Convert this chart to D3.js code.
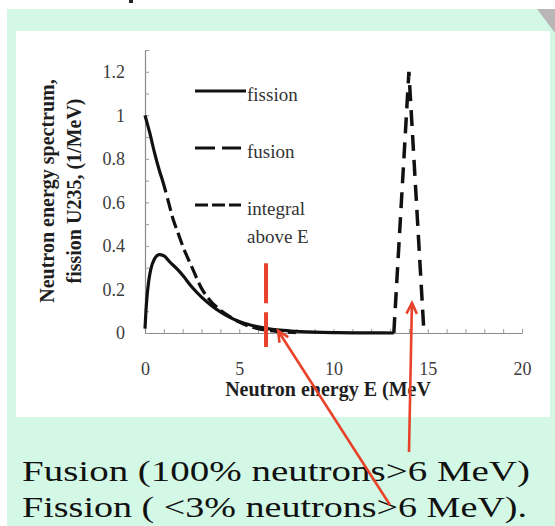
<!DOCTYPE html>
<html>
<head>
<meta charset="utf-8">
<script src="https://cdn.jsdelivr.net/npm/d3@7"></script>
<style>
  html, body { margin: 0; padding: 0; background: #ffffff; }
  svg { display: block; }
</style>
</head>
<body>
<svg id="chart" width="555" height="526"></svg>
<script>
// ---------------- data ----------------
const fissionEnergy   = [0, 0.05, 0.1, 0.2, 0.3, 0.5, 0.75, 1.0, 1.33, 1.75, 2.0, 2.5, 3.0, 3.5, 4.0, 4.5, 5.0, 5.5, 6.0, 6.5, 7.0, 8.0, 9.0, 10.0, 11.0, 12.0, 13.2];
const fissionSpectrum = [0.02, 0.10, 0.16, 0.24, 0.29, 0.34, 0.36, 0.355, 0.325, 0.29, 0.265, 0.21, 0.165, 0.128, 0.097, 0.072, 0.053, 0.039, 0.028, 0.02, 0.014, 0.008, 0.004, 0.002, 0.001, 0.0005, 0];

const integralEnergy = [0, 0.25, 0.5, 0.75, 1.0, 1.25, 1.5, 1.75, 2.0, 2.5, 3.0, 3.5, 4.0, 4.5, 5.0, 5.5, 6.0, 6.5, 7.0, 7.5, 8.0];
const integralAbove  = [1.0, 0.92, 0.83, 0.75, 0.68, 0.60, 0.52, 0.46, 0.40, 0.30, 0.205, 0.145, 0.105, 0.075, 0.05, 0.032, 0.02, 0.012, 0.007, 0.004, 0.002];

const fusionEnergy   = [13.2, 14.0, 14.8];
const fusionSpectrum = [0, 1.2, 0];

const xTickValues = [0, 5, 10, 15, 20];
const yTickValues = [0, 0.2, 0.4, 0.6, 0.8, 1.0, 1.2];
const yTickLabels = ["0", "0.2", "0.4", "0.6", "0.8", "1", "1.2"];

const legendLabels = ["fission", "fusion", "integral", "above E"];
const xTitle = "Neutron energy E (MeV";
const yTitleLines = ["Neutron energy spectrum,", "fission U235, (1/MeV)"];
const cutoffEnergy = 6.42;
const captionLines = ["Fusion (100% neutrons>6 MeV)", "Fission ( <3% neutrons>6 MeV)."];

// ---------------- layout ----------------
const svg = d3.select("#chart");
const serif = "'Liberation Serif', 'Times New Roman', serif";
const mint = "#d3f9e6";
const red = "#e8432a";

svg.append("rect").attr("x", 0).attr("y", 0).attr("width", 555).attr("height", 526).attr("fill", "#ffffff");
svg.append("rect").attr("x", 7).attr("y", 9).attr("width", 548).attr("height", 517).attr("fill", mint);
svg.append("rect").attr("x", 16).attr("y", 31).attr("width", 534).attr("height", 386).attr("fill", "#ffffff");
svg.append("path").attr("d", "M537,9 L555,9 L555,33 Z").attr("fill", "#b9b6b8");
svg.append("rect").attr("x", 129).attr("y", 0).attr("width", 4).attr("height", 3).attr("fill", "#222");

const x = d3.scaleLinear().domain([0, 20]).range([145, 522]);
const y = d3.scaleLinear().domain([0, 1.3]).range([333, 50]);

// axes
const xAxis = d3.axisBottom(x)
  .tickValues(d3.range(0, 21, 1))
  .tickSize(-4).tickSizeOuter(0).tickPadding(29)
  .tickFormat(d => xTickValues.includes(d) ? String(d) : "");
const yAxis = d3.axisLeft(y)
  .tickValues(d3.range(0, 14, 1).map(i => i / 10))
  .tickSize(-4).tickSizeOuter(0).tickPadding(20)
  .tickFormat(d => {
    const k = yTickValues.findIndex(v => Math.abs(v - d) < 1e-9);
    return k >= 0 ? yTickLabels[k] : "";
  });

function styleAxis(g) {
  g.select(".domain").attr("stroke", "#8a8a8a").attr("stroke-width", 1.2);
  g.selectAll(".tick line").attr("stroke", "#9a9a9a").attr("stroke-width", 1);
  g.selectAll(".tick text").attr("fill", "#3c3c3c").style("font-family", serif).style("font-size", "18px");
}
svg.append("g").attr("transform", "translate(0,333)").call(xAxis).call(styleAxis);
svg.append("g").attr("transform", "translate(145,0)").call(yAxis).call(styleAxis);

// axis titles
svg.append("text")
  .attr("x", 328).attr("y", 396).attr("text-anchor", "middle")
  .style("font-family", serif).style("font-size", "20px").style("font-weight", "bold")
  .attr("fill", "#1e1e1e").text(xTitle);
const yt = svg.append("g").attr("transform", "translate(0,191) rotate(-90)");
yt.append("text").attr("x", 0).attr("y", 54).attr("text-anchor", "middle")
  .style("font-family", serif).style("font-size", "20px").style("font-weight", "bold")
  .attr("fill", "#1e1e1e").text(yTitleLines[0]);
yt.append("text").attr("x", 0).attr("y", 81).attr("text-anchor", "middle")
  .style("font-family", serif).style("font-size", "20px").style("font-weight", "bold")
  .attr("fill", "#1e1e1e").text(yTitleLines[1]);

// curves
const line = d3.line().x(d => x(d[0])).y(d => y(d[1])).curve(d3.curveMonotoneX);
const lineLin = d3.line().x(d => x(d[0])).y(d => y(d[1]));

const integralPath = svg.append("path")
  .datum(d3.zip(integralEnergy, integralAbove))
  .attr("d", line).attr("fill", "none").attr("stroke", "#111").attr("stroke-width", 3.2);
const L = integralPath.node().getTotalLength();
const dash = [80, 6];
while (d3.sum(dash) < L + 40) dash.push(13, 5);
integralPath.attr("stroke-dasharray", dash.join(","));

svg.append("path")
  .datum(d3.zip(fissionEnergy, fissionSpectrum))
  .attr("d", line).attr("fill", "none").attr("stroke", "#111").attr("stroke-width", 3.2)
  .attr("stroke-linejoin", "round");

svg.append("path")
  .datum(d3.zip(fusionEnergy, fusionSpectrum))
  .attr("d", lineLin).attr("fill", "none").attr("stroke", "#111").attr("stroke-width", 3.5)
  .attr("stroke-dasharray", "16,9");

// legend
const legend = [
  { y: 91, dash: null, label: [legendLabels[0]] },
  { y: 148, dash: "20,7", label: [legendLabels[1]] },
  { y: 205, dash: "13,4", label: [legendLabels[2], legendLabels[3]] }
];
legend.forEach(l => {
  svg.append("line").attr("x1", 195).attr("x2", l.dash ? 241 : 246).attr("y1", l.y).attr("y2", l.y)
    .attr("stroke", "#111").attr("stroke-width", 3.2).attr("stroke-dasharray", l.dash);
  l.label.forEach((t, i) => {
    svg.append("text").attr("x", 247).attr("y", l.y + 10 + i * 28)
      .style("font-family", serif).style("font-size", "19px").attr("fill", "#333").text(t);
  });
});

// red annotations
svg.append("line")
  .attr("x1", x(cutoffEnergy)).attr("x2", x(cutoffEnergy))
  .attr("y1", y(0.32)).attr("y2", y(-0.064))
  .attr("stroke", red).attr("stroke-width", 4).attr("stroke-dasharray", "40,9");

function arrow(x0, y0, x1, y1) {
  svg.append("line").attr("x1", x0).attr("y1", y0).attr("x2", x1).attr("y2", y1)
    .attr("stroke", red).attr("stroke-width", 2.6);
  const a = Math.atan2(y1 - y0, x1 - x0);
  const len = 12, spread = 0.45;
  const p = [a + Math.PI - spread, a + Math.PI + spread].map(t => [x1 + len * Math.cos(t), y1 + len * Math.sin(t)]);
  svg.append("path").attr("d", `M${p[0][0]},${p[0][1]} L${x1},${y1} L${p[1][0]},${p[1][1]}`)
    .attr("fill", "none").attr("stroke", red).attr("stroke-width", 2.6).attr("stroke-linejoin", "miter");
}

// caption
svg.append("text").attr("x", 22).attr("y", 481)
  .style("font-family", serif).style("font-size", "30px").attr("fill", "#111")
  .attr("textLength", 508).attr("lengthAdjust", "spacingAndGlyphs").text(captionLines[0]);
svg.append("text").attr("x", 22).attr("y", 517)
  .style("font-family", serif).style("font-size", "30px").attr("fill", "#111")
  .attr("textLength", 505).attr("lengthAdjust", "spacingAndGlyphs").text(captionLines[1]);

arrow(390, 505, x(7.06), y(0.01));
arrow(409, 452, x(14.16), y(0.138));
</script>
</body>
</html>
